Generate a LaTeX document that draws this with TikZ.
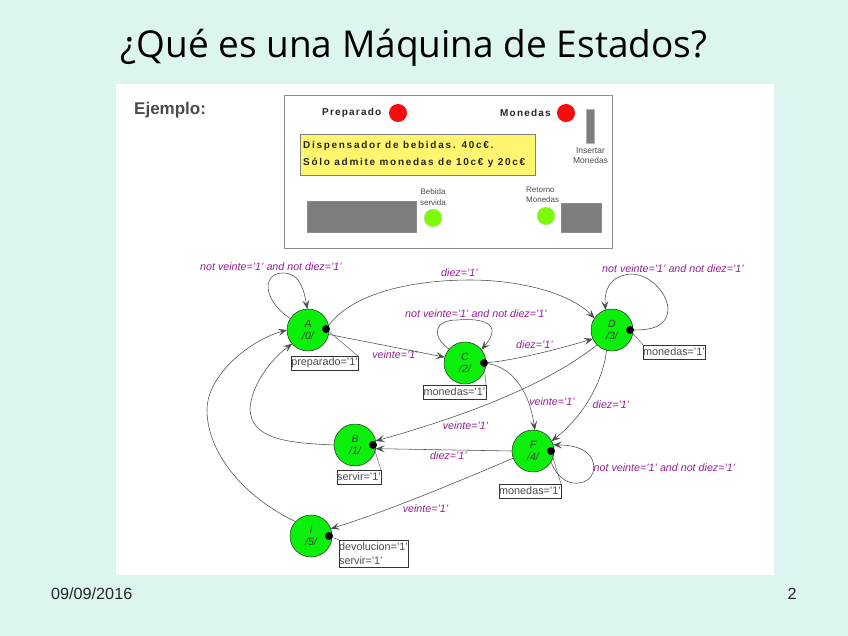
\documentclass[tikz,border=0pt]{standalone}
\usepackage{fontspec}
\setmainfont{Liberation Sans}
\newfontfamily\titlefont{Open Sans}
\newfontfamily\spacedfont[LetterSpace=12]{Liberation Sans Bold}
\newfontfamily\lcdfont[LetterSpace=17]{Liberation Sans Bold}
\usetikzlibrary{arrows.meta}
\definecolor{slidebg}{RGB}{221,245,240}
\definecolor{stategreen}{RGB}{10,240,10}
\definecolor{lamp}{RGB}{250,10,10}
\definecolor{lampgreen}{RGB}{125,250,5}
\definecolor{lcdyellow}{RGB}{255,245,110}
\definecolor{lblpurple}{RGB}{150,30,150}
\definecolor{slot}{RGB}{125,125,125}
\tikzset{
  x=1pt,y=-1pt,
  state/.style={circle,draw=black!85,line width=.5pt,fill=stategreen,minimum size=42pt,inner sep=0pt,outer sep=0pt,align=center,font=\fontsize{10.5}{12}\selectfont\itshape,text=black!75},
  outdot/.style={circle,fill=black,minimum size=8pt,inner sep=0pt,outer sep=0pt},
  outbox/.style={draw=black!80,line width=.6pt,fill=white,inner sep=0pt,outer sep=0pt,text=black!70,font=\fontsize{10.8}{13.5}\selectfont,align=left},
  edge/.style={draw=black!70,line width=.55pt,-{Stealth[length=9pt,width=7pt,inset=4pt]}},
  tie/.style={draw=black!60,line width=.5pt},
  lbl/.style={text=lblpurple,font=\fontsize{10.7}{11}\selectfont\itshape,inner sep=0pt},
  lampred/.style={circle,fill=lamp,minimum size=18pt,inner sep=0pt},
  lampgr/.style={circle,fill=lampgreen,draw=black!15,line width=.4pt,minimum size=18pt,inner sep=0pt},
  grayblock/.style={fill=slot,draw=black!45,line width=.5pt,inner sep=0pt},
  paneltxt/.style={text=black!85,font=\fontsize{10}{16.5}\selectfont\spacedfont,inner sep=0pt,align=left},
  lcdtxt/.style={text=black!85,font=\fontsize{10}{16.5}\selectfont\lcdfont,inner sep=0pt,align=left},
  tinytxt/.style={text=black!70,font=\fontsize{8}{10.5}\selectfont,inner sep=0pt,align=center},
}
\begin{document}
\begin{tikzpicture}
\path[use as bounding box,fill=slidebg] (0,0) rectangle (848,636);
\fill[white] (116,84) rectangle (774,575);
\node[inner sep=0pt,text=black] (title) at (414,48) {\titlefont\fontsize{37}{40}\selectfont ¿Qué es una Máquina de Estados?};
\node[inner sep=0pt,anchor=west,text=black!70,font=\fontsize{17}{18}\selectfont\bfseries] (ejemplo) at (134,110) {Ejemplo:};
\node[inner sep=0pt,anchor=west,font=\fontsize{16.2}{18}\selectfont,text=black!85] (fecha) at (51,594) {09/09/2016};
\node[inner sep=0pt,font=\fontsize{16.2}{18}\selectfont,text=black!85] (pagina) at (792,594) {2};
% panel
\draw[draw=black!45,fill=white,line width=.8pt] (284,95) rectangle (612,248);
\node[paneltxt,anchor=west] (preparado) at (322,113) {Preparado};
\node[lampred] (lampP) at (398,113) {};
\node[paneltxt,anchor=west] (monedasT) at (500,113) {Monedas};
\node[lampred] (lampM) at (566,113) {};
\fill[slot,draw=black!30,line width=.4pt] (586,109) rectangle (594,143);
\node[tinytxt,font=\fontsize{8.5}{10.5}\selectfont] (insertar) at (590.5,155.5) {Insertar\\Monedas};
\draw[fill=lcdyellow,draw=black!50,line width=.8pt] (300,134) rectangle (535,175);
\node[lcdtxt,anchor=west] (lcd) at (303,154.5) {Dispensador de bebidas. 40c€.\\Sólo admite monedas de 10c€ y 20c€};
\draw[grayblock] (307,201) rectangle (416,232);
\node[tinytxt] (bebida) at (433,197) {Bebida\\servida};
\node[lampgr] (lampB) at (433,218) {};
\node[tinytxt,align=left,anchor=west] (retorno) at (526,195) {Retorno\\Monedas};
\node[lampgr] (lampR) at (546,216) {};
\draw[grayblock] (561,203) rectangle (601,232);
% output boxes
\node[outbox,minimum width=67pt,minimum height=14pt] (oA) at (324.5,363) {preparado='1'};
\node[outbox,minimum width=63pt,minimum height=14pt] (oC) at (454.5,392) {monedas='1'};
\node[outbox,minimum width=62pt,minimum height=14pt] (oD) at (674,352) {monedas='1'};
\node[outbox,minimum width=44pt,minimum height=14pt] (oB) at (359,477) {servir='1'};
\node[outbox,minimum width=62pt,minimum height=14pt] (oF) at (530,491) {monedas='1'};
\node[outbox,minimum width=69pt,minimum height=27pt] (oI) at (373.5,553.5) {devolucion='1'\\servir='1'};
% states
\node[state] (A) at (308,330) {A\\/0/};
\node[state] (C) at (465,363) {C\\/2/};
\node[state] (D) at (612,330) {D\\/3/};
\node[state] (B) at (355,445) {B\\/1/};
\node[state] (F) at (533,451) {F\\/4/};
\node[state] (I) at (311,536) {I\\/5/};
\foreach \n/\xx/\yy in {A/326/329,C/484/363,D/630/330,B/373/445,F/551/451,I/329/536}{
  \node[outdot] (\n dot) at (\xx,\yy) {};
}
% ties to outputs
\draw[tie] (Adot) -- (oA.north east);
\draw[tie] (Cdot) -- (oC.north east);
\draw[tie] (Ddot) -- (oD.north west);
\draw[tie] (Bdot) -- (oB.north east);
\draw[tie] (Fdot) -- (oF.north east);
\draw[tie] (Idot) -- (oI.north west);
% transitions
\draw[edge] (A.147) .. controls (262,300) and (262,273) .. (283,273) .. controls (300,273) and (304,290) .. (A.92);
\draw[edge] (Adot) .. controls (355,290) and (420,280) .. (470,280) .. controls (520,280) and (570,293) .. (D.146);
\draw[edge] (A.-12) -- (C.164);
\draw[edge] (C.139) .. controls (430,335) and (435,320) .. (457,320) .. controls (480,318) and (505,322) .. (C.39);
\draw[edge] (Cdot) .. controls (515,360) and (555,350) .. (D.205);
\draw[edge] (Cdot) .. controls (515,368) and (530,395) .. (F.85);
\draw[edge] (Ddot) .. controls (655,330) and (668,325) .. (668,308) .. controls (665,285) and (640,270) .. (625,275) .. controls (610,278) and (604,290) .. (D.108);
\draw[edge] (D.225) .. controls (540,390) and (450,420) .. (B.11);
\draw[edge] (D.255) .. controls (603,380) and (585,415) .. (F.28);
\draw[edge] (F.180) -- (B.-10);
\draw[edge] (F.200) .. controls (450,485) and (390,510) .. (I.20);
\draw[edge] (F.-31) .. controls (558,480) and (570,484) .. (578,483) .. controls (595,482) and (597,465) .. (590,456) .. controls (583,447) and (570,445) .. (F.17);
\draw[edge] (B.180) .. controls (290,443) and (250,440) .. (250,408) .. controls (252,385) and (270,360) .. (A.221);
\draw[edge] (I.137) .. controls (240,495) and (207,450) .. (207,410) .. controls (207,375) and (250,340) .. (A.180);
% labels
\node[lbl] (l1) at (271,267) {not veinte='1' and not diez='1'};
\node[lbl] (l2) at (459.5,273) {diez='1'};
\node[lbl] (l3) at (476,314) {not veinte='1' and not diez='1'};
\node[lbl] (l4) at (673,269) {not veinte='1' and not diez='1'};
\node[lbl] (l5) at (395,355) {veinte='1'};
\node[lbl] (l6) at (534.5,345) {diez='1'};
\node[lbl] (l7) at (552,402) {veinte='1'};
\node[lbl] (l8) at (611,405) {diez='1'};
\node[lbl] (l9) at (465.5,426) {veinte='1'};
\node[lbl] (l10) at (448.5,456) {diez='1'};
\node[lbl] (l11) at (425.5,509) {veinte='1'};
\node[lbl] (l12) at (664.5,468) {not veinte='1' and not diez='1'};
\end{tikzpicture}
\end{document}
